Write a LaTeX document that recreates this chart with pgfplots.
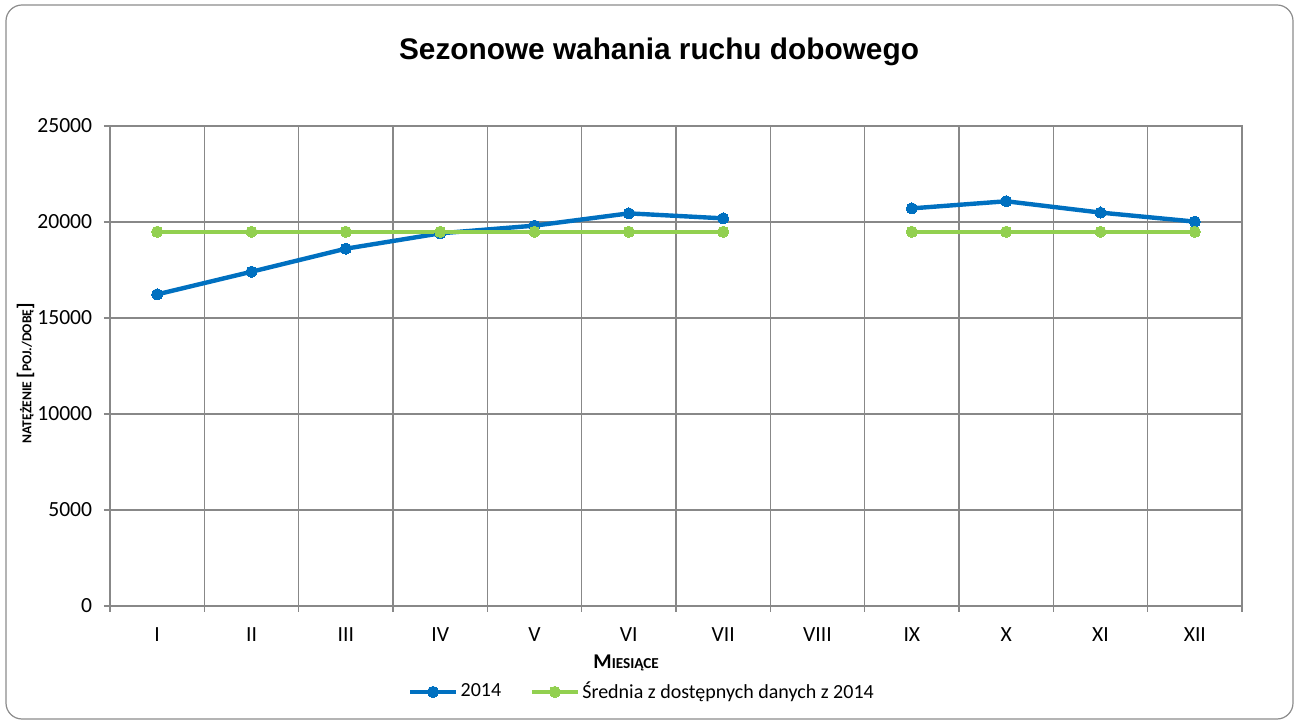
\documentclass[border=0pt]{standalone}
\usepackage{pgfplots}
\pgfplotsset{compat=1.18}
\usepackage{fontspec}
\setmainfont{Carlito}
\newfontfamily\arialfont{Liberation Sans}
\definecolor{blue14}{HTML}{0070C0}
\definecolor{green14}{HTML}{92D050}
\definecolor{gridgray}{HTML}{888888}
\definecolor{framegray}{HTML}{8C8C8C}
\begin{document}
\begin{tikzpicture}
\path (0,0) rectangle (649pt,362pt);
\draw[framegray, line width=0.6pt, rounded corners=8pt] (3pt,2.5pt) rectangle (646.5pt,359.5pt);
\node[font=\arialfont\bfseries\fontsize{14.9}{18}\selectfont] at (329.5pt,336pt) {Sezonowe wahania ruchu dobowego};
\begin{axis}[
 at={(55pt,59pt)}, anchor=south west, scale only axis, width=566pt, height=240pt,
 xmin=0.5, xmax=12.5, ymin=0, ymax=25000,
 xtick={1,...,12}, xticklabels={I,II,III,IV,V,VI,VII,VIII,IX,X,XI,XII},
 minor xtick={0.5,1.5,...,12.5},
 ytick={0,5000,...,25000},
 xminorgrids, ymajorgrids, xmajorgrids=false,
 grid style={gridgray, line width=0.65pt},
 minor grid style={gridgray, line width=0.65pt},
 axis line style={gridgray, line width=0.65pt},
 major x tick style={draw=none},
 minor x tick style={gridgray, line width=0.65pt},
 y tick style={gridgray, line width=0.65pt},
 tick align=outside, major tick length=3pt, minor tick length=3pt,
 xtick pos=bottom, ytick pos=left,
 tick label style={font=\fontsize{10.8}{13}\selectfont, text=black},
 xticklabel style={yshift=-4.2pt},
 yticklabel style={xshift=-2.4pt},
 /pgf/number format/assume math mode=true,
 /pgf/number format/set thousands separator={},
 scaled y ticks=false,
 unbounded coords=jump,
 xlabel={\bfseries{\fontsize{10.5}{12}\selectfont M}{\fontsize{7.6}{9}\selectfont IESIĄCE}},
 xlabel style={at={(axis description cs:0.456,-0.119)}, anchor=center},
 ylabel={\bfseries{\fontsize{6.8}{8}\selectfont NATĘŻENIE }{\fontsize{10}{10}\selectfont [}{\fontsize{6.8}{8}\selectfont POJ./DOBĘ}{\fontsize{10}{10}\selectfont ]}},
 ylabel style={at={(axis description cs:-0.0745,0.485)}, anchor=center},
 legend columns=2,
 legend style={at={(0.47,-0.179)}, anchor=center, draw=none, fill=none,
   font=\fontsize{10}{12}\selectfont, inner sep=0pt,
   /tikz/every even column/.append style={column sep=13pt},
   nodes={inner sep=1.2pt}},
 legend image code/.code={\draw[mark repeat=2,mark phase=2] plot coordinates {(0pt,0pt)(11.5pt,0pt)(23pt,0pt)};},
]
\addplot[blue14, line width=2.2pt, line join=round, mark=*, mark size=2.8pt, mark options={fill=blue14, draw=blue14, line width=0pt}]
 coordinates {(1,16230)(2,17410)(3,18610)(4,19410)(5,19810)(6,20450)(7,20190)(8,nan)(9,20710)(10,21080)(11,20490)(12,20020)};
\addlegendentry{2014}
\addplot[green14, line width=2.2pt, line join=round, mark=*, mark size=2.8pt, mark options={fill=green14, draw=green14, line width=0pt}]
 coordinates {(1,19490)(2,19490)(3,19490)(4,19490)(5,19490)(6,19490)(7,19490)(8,nan)(9,19490)(10,19490)(11,19490)(12,19490)};
\addlegendentry{Średnia z dostępnych danych z 2014}
\end{axis}
\end{tikzpicture}
\end{document}
